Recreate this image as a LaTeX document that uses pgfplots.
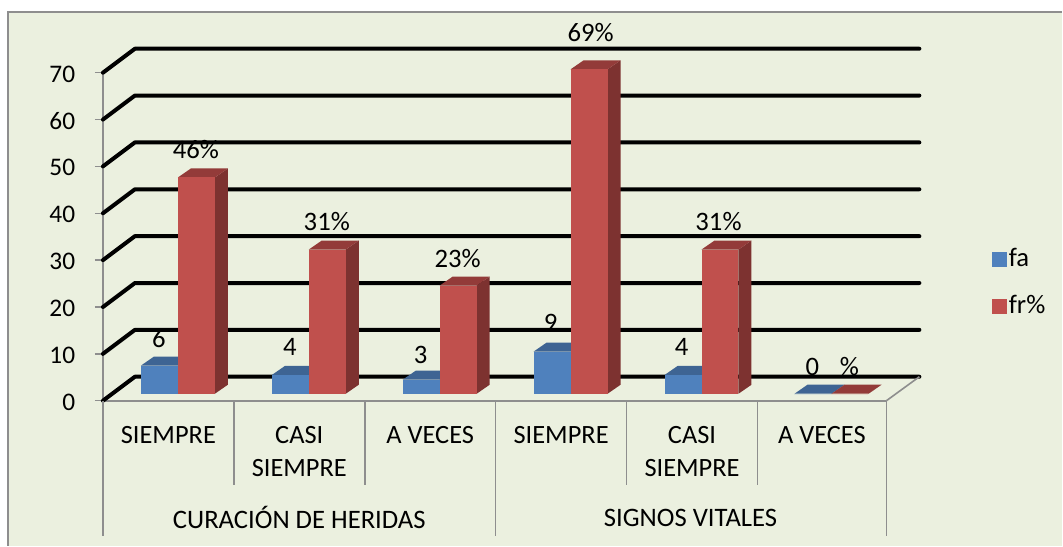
\documentclass[border=0pt]{standalone}
\usepackage{fontspec}
\setmainfont{Carlito}
\usepackage{pgfplots}
\pgfplotsset{compat=1.18}
\definecolor{chartbg}{HTML}{EBF0DF}
\definecolor{framegray}{HTML}{8E8E8E}
\definecolor{bluefront}{HTML}{4F81BD}
\definecolor{blueside}{HTML}{385D8A}
\definecolor{bluetop}{HTML}{3E6493}
\definecolor{redfront}{HTML}{C0504D}
\definecolor{redside}{HTML}{7D3230}
\definecolor{redtop}{HTML}{933B39}
% bar: x of front left edge, value, colour prefix (x in reference pixels, y in chart units)
\newcommand{\barthree}[3]{
  \addplot[forget plot,draw=none,fill=#3side] coordinates {(#1+37,1.49)(#1+50,3.41)(#1+50,3.41+#2)(#1+37,1.49+#2)} -- cycle;
  \addplot[forget plot,draw=none,fill=#3top] coordinates {(#1,1.49+#2)(#1+13,3.41+#2)(#1+50,3.41+#2)(#1+37,1.49+#2)} -- cycle;
  \addplot[forget plot,draw=none,fill=#3front] coordinates {(#1,1.49)(#1,1.49+#2)(#1+37,1.49+#2)(#1+37,1.49)} -- cycle;
}
\newcommand{\gridthree}[1]{
  \addplot[forget plot,black,line width=3pt,line cap=round,line join=round] coordinates {(103,#1)(135,#1+5.12)(920,#1+5.12)};
}
\newcommand{\sep}[2]{
  \addplot[forget plot,framegray,line width=1.2pt] coordinates {(#1,0)(#1,#2)};
}
\newcommand{\lab}[3]{\node[inner sep=0pt] at (axis cs:#1,{(401-#2)/4.69}) {#3};}
\begin{document}
\begin{tikzpicture}
\fill[white] (0pt,0pt) rectangle (797.25pt,409.5pt);
\fill[chartbg] (6pt,0pt) rectangle (797.25pt,400.5pt);
\draw[framegray,line width=1.1pt] (6pt,0pt) -- (6pt,400.5pt) -- (797.25pt,400.5pt);
\begin{axis}[
  at={(77.25pt,108.75pt)},
  anchor=south west,
  scale only axis,
  width=588pt,
  height=246.2pt,
  xmin=103,
  xmax=887,
  ymin=0,
  ymax=70,
  clip=false,
  axis x line=bottom,
  axis y line=left,
  axis line style={framegray,line width=1.2pt,-},
  tick align=outside,
  major tick length=6pt,
  ytick={0,10,20,30,40,50,60,70},
  y tick style={framegray,line width=1pt},
  x tick style={draw=none},
  xtick={168.5,299.5,430.5,561.5,692.5,822.5},
  xticklabels={SIEMPRE,{CASI\\SIEMPRE},A VECES,SIEMPRE,{CASI\\SIEMPRE},A VECES},
  x tick label style={align=center,yshift=-6.5pt,font=\fontsize{19.8pt}{24.75pt}\selectfont},
  y tick label style={font=\fontsize{19pt}{22pt}\selectfont,xshift=-8pt,yshift=-1pt},
  /pgf/number format/assume math mode=true,
  legend style={at={(1.134,0.475)},anchor=north west,draw=none,fill=none,font=\fontsize{20pt}{22pt}\selectfont,row sep=15pt,inner sep=0pt,
    /tikz/every even column/.append style={column sep=1.5pt}},
  legend cell align=left,
  legend image code/.code={\fill[#1] (0pt,-5.25pt) rectangle (10.5pt,5.25pt);},
  legend entries={fa,fr\%},
]
\addlegendimage{bluefront}
\addlegendimage{redfront}
\gridthree{70}
\gridthree{60}
\gridthree{50}
\gridthree{40}
\gridthree{30}
\gridthree{20}
\gridthree{10}
\gridthree{0}
\addplot[forget plot,framegray,line width=1.2pt] coordinates {(887,0)(920,5.12)};
\sep{103}{-28.78}
\sep{234}{-17.91}
\sep{365}{-17.91}
\sep{496}{-28.78}
\sep{627}{-17.91}
\sep{758}{-17.91}
\sep{887}{-28.78}
\barthree{141}{6}{blue}
\barthree{178}{46.15}{red}
\barthree{272}{4}{blue}
\barthree{309}{30.77}{red}
\barthree{403}{3}{blue}
\barthree{440}{23.08}{red}
\barthree{534}{9}{blue}
\barthree{571}{69.23}{red}
\barthree{665}{4}{blue}
\barthree{702}{30.77}{red}
\barthree{795}{0}{blue}
\barthree{832}{0}{red}
\fontsize{20pt}{22pt}\selectfont
\lab{159}{339}{6}
\lab{196}{150}{46\%}
\lab{290}{347}{4}
\lab{327}{222}{31\%}
\lab{421}{355}{3}
\lab{458}{259}{23\%}
\lab{551}{323}{9}
\lab{591}{32}{69\%}
\lab{682}{347}{4}
\lab{719}{222}{31\%}
\lab{813}{367}{0}
\lab{850}{367}{\%}
\lab{299.5}{518}{CURACIÓN DE HERIDAS}
\lab{691}{518}{SIGNOS VITALES}
\end{axis}
\end{tikzpicture}
\end{document}
